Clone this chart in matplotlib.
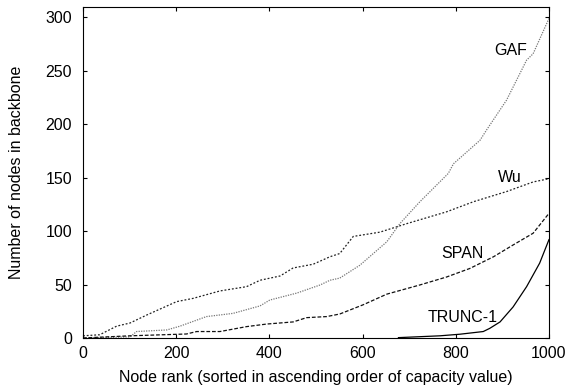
import matplotlib
matplotlib.use("Agg")
import matplotlib.pyplot as plt

plt.rcParams["font.family"] = ["Liberation Sans", "DejaVu Sans"]

# values
wu_x = [0, 36, 72, 101, 137, 201, 236, 294, 351, 380, 423, 451, 494, 530, 551, 580, 637, 695, 780, 838, 909, 966, 1000]
wu_y = [2, 3, 11, 14, 21.5, 34, 37, 44, 48, 54, 58, 65.5, 69, 76, 79, 95, 99, 107, 118, 127.5, 137, 146, 149]

gaf_x = [0, 101, 115, 180, 208, 265, 322, 380, 401, 459, 509, 530, 551, 594, 652, 680, 723, 784, 795, 852, 866, 909, 952, 966, 1000]
gaf_y = [0, 1, 6, 7.5, 11, 20, 23, 30, 35.5, 42, 49.6, 54, 56, 68, 90, 107, 127.5, 154, 163, 185, 194.6, 222.6, 260, 266, 299]

span_x = [0, 51, 101, 222, 244, 294, 351, 394, 451, 480, 523, 551, 601, 652, 723, 780, 830, 881, 923, 966, 1000]
span_y = [0, 1, 2, 3.7, 6, 6, 10.6, 13, 15, 19, 20, 22.4, 31, 41, 49.6, 57, 65, 76, 87, 98, 116.6]

trunc_x = [677, 766, 809, 859, 873, 895, 923, 952, 980, 1000]
trunc_y = [0.3, 2, 3.5, 6, 9, 15, 29, 48, 70, 92]

labels = ["GAF", "Wu", "SPAN", "TRUNC-1"]
label_x = [953, 942, 860, 890]
label_y = [269, 150, 79.5, 18.7]

fs = 11.5

fig = plt.figure(figsize=(5.7, 3.88), dpi=100)
ax = fig.add_axes([0.1456, 0.129, 0.8175, 0.8537])

ax.plot(gaf_x, gaf_y, color="#777777", lw=0.9, ls=(0, (1, 1)))
ax.plot(wu_x, wu_y, color="#222222", lw=0.9, ls=(0, (1.5, 1.5)))
ax.plot(span_x, span_y, color="#111111", lw=0.9, ls=(0, (3, 1.5)))
ax.plot(trunc_x, trunc_y, color="black", lw=0.9)

for name, lx, ly in zip(labels, label_x, label_y):
    ax.text(lx, ly, name, ha="right", va="center", fontsize=fs)

ax.set_xlim(0, 1000)
ax.set_ylim(0, 310)
ax.set_xticks(range(0, 1001, 200))
ax.set_yticks(range(0, 301, 50))
ax.tick_params(direction="in", top=True, right=True, labelsize=fs, length=3)
ax.tick_params(axis="x", pad=6)
ax.tick_params(axis="y", pad=8)
ax.set_xlabel("Node rank (sorted in ascending order of capacity value)", fontsize=fs, labelpad=6)
ax.set_ylabel("Number of nodes in backbone", fontsize=fs)
ax.yaxis.set_label_coords(-0.127, 0.5)

fig.savefig("out.png", dpi=100)
plt.close(fig)
